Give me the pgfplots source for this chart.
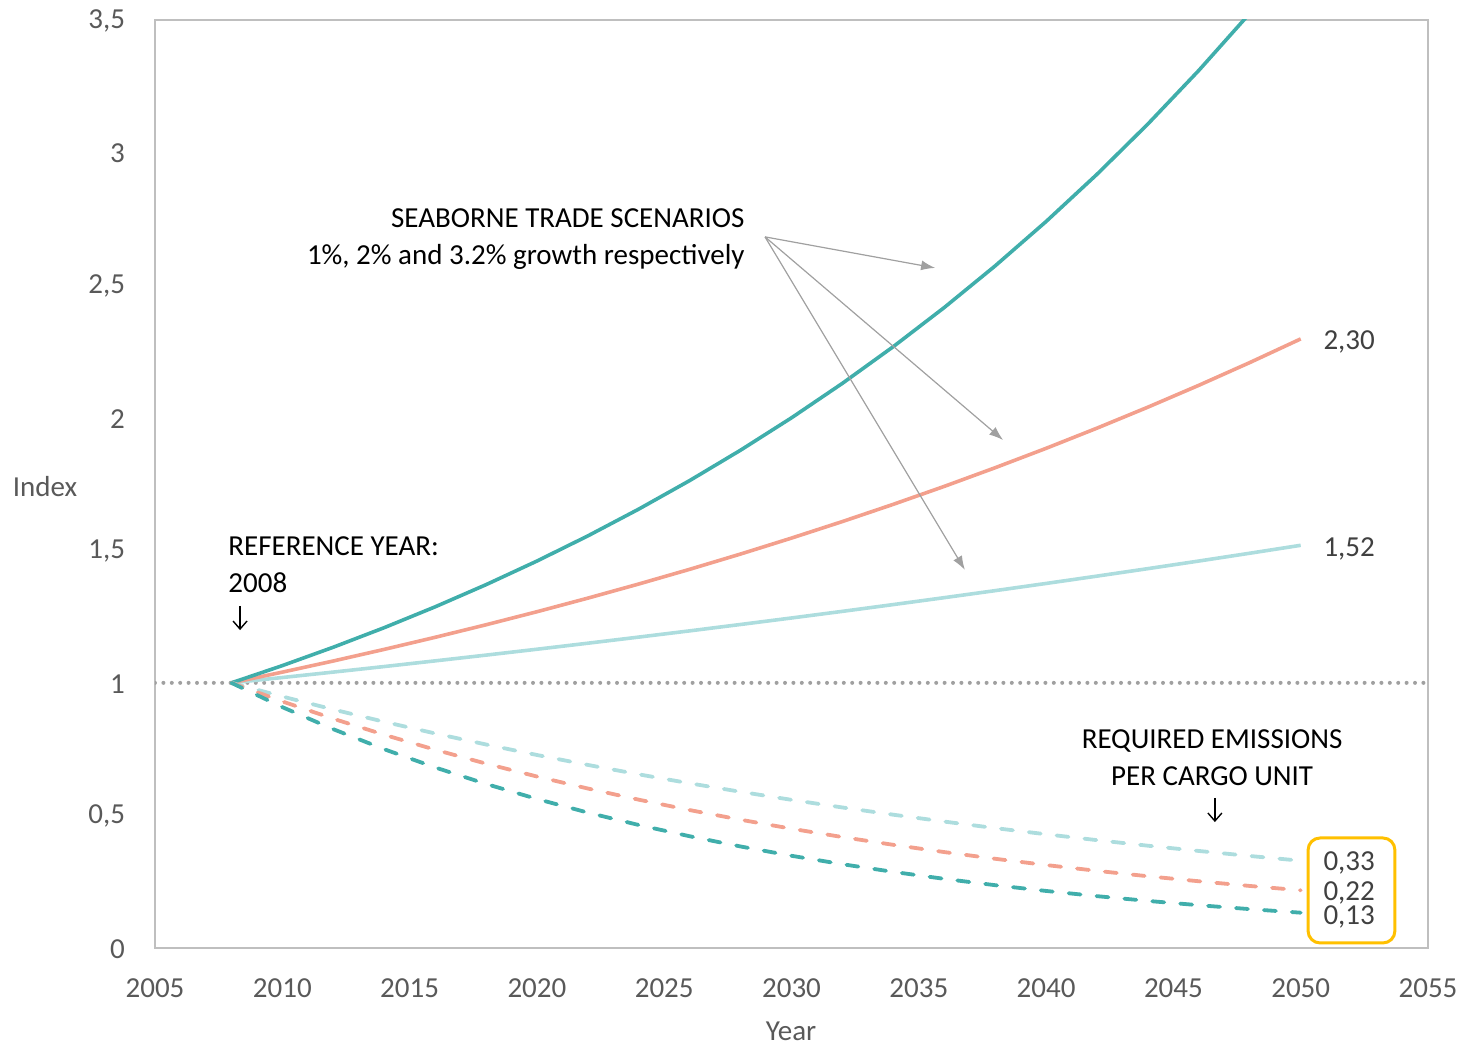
\documentclass[border=0pt]{standalone}
\usepackage{fontspec}
\setmainfont{Carlito}
\usepackage{pgfplots}
\pgfplotsset{compat=1.18}
\usetikzlibrary{arrows.meta}
\definecolor{teal1}{RGB}{64,174,171}
\definecolor{salmon1}{RGB}{243,160,141}
\definecolor{light1}{RGB}{173,221,222}
\definecolor{tickgray}{RGB}{89,89,89}
\definecolor{framegray}{RGB}{191,191,191}
\definecolor{gold1}{RGB}{255,192,0}
\definecolor{arrgray}{RGB}{160,160,160}
\begin{document}
\begin{tikzpicture}
\fontsize{14.5}{18.5}\selectfont
\begin{axis}[
  at={(0,0)}, anchor=south west,
  scale only axis, width=636.5pt, height=464pt,
  xmin=2005, xmax=2055, ymin=0, ymax=3.5,
  xtick={2005,2010,...,2055},
  ytick={0,0.5,...,3.5},
  major tick length=0pt,
  axis line style={framegray, line width=1pt},
  tick label style={tickgray, font=\fontsize{14.5}{17}\selectfont},
  /pgf/number format/assume math mode=true,
  /pgf/number format/use comma,
  /pgf/number format/1000 sep={},
  yticklabel style={xshift=-10pt, yshift=-0.5pt},
  xticklabel style={yshift=-10.5pt},
  clip mode=individual,
]
% reference line
\addplot[arrgray, line width=2pt, line cap=round, dash pattern=on 0pt off 4.2pt] coordinates {(2005,1) (2055,1)};
% growth scenarios
\addplot[light1, line width=1.8pt] coordinates {
(2008,1) (2010,1.0201) (2012,1.0406) (2014,1.0615) (2016,1.0829) (2018,1.1046) (2020,1.1268) (2022,1.1495) (2024,1.1726) (2026,1.1961) (2028,1.2202) (2030,1.2447) (2032,1.2697) (2034,1.2953) (2036,1.3213) (2038,1.3478) (2040,1.3749) (2042,1.4026) (2044,1.4308) (2046,1.4595) (2048,1.4889) (2050,1.5188)};
\addplot[salmon1, line width=1.8pt] coordinates {
(2008,1) (2010,1.0404) (2012,1.0824) (2014,1.1262) (2016,1.1717) (2018,1.2190) (2020,1.2682) (2022,1.3195) (2024,1.3728) (2026,1.4282) (2028,1.4859) (2030,1.5460) (2032,1.6084) (2034,1.6734) (2036,1.7410) (2038,1.8114) (2040,1.8845) (2042,1.9607) (2044,2.0399) (2046,2.1223) (2048,2.2080) (2050,2.2972)};
\addplot[teal1, line width=1.8pt] coordinates {
(2008,1) (2010,1.0650) (2012,1.1343) (2014,1.2080) (2016,1.2866) (2018,1.3702) (2020,1.4593) (2022,1.5542) (2024,1.6553) (2026,1.7629) (2028,1.8776) (2030,1.9996) (2032,2.1297) (2034,2.2682) (2036,2.4156) (2038,2.5727) (2040,2.7400) (2042,2.9182) (2044,3.1079) (2046,3.3100) (2048,3.5252) (2050,3.7545)};
% required emissions per cargo unit
\addplot[light1, line width=1.9pt, line cap=round, dash pattern=on 6pt off 8pt] coordinates {
(2008,1) (2010,0.9485) (2012,0.8996) (2014,0.8532) (2016,0.8093) (2018,0.7676) (2020,0.7280) (2022,0.6905) (2024,0.6549) (2026,0.6212) (2028,0.5892) (2030,0.5588) (2032,0.5300) (2034,0.5027) (2036,0.4768) (2038,0.4522) (2040,0.4289) (2042,0.4068) (2044,0.3858) (2046,0.3660) (2048,0.3471) (2050,0.3292)};
\addplot[salmon1, line width=1.9pt, line cap=round, dash pattern=on 6pt off 8pt] coordinates {
(2008,1) (2010,0.9300) (2012,0.8648) (2014,0.8043) (2016,0.7479) (2018,0.6955) (2020,0.6468) (2022,0.6015) (2024,0.5594) (2026,0.5202) (2028,0.4838) (2030,0.4499) (2032,0.4184) (2034,0.3891) (2036,0.3618) (2038,0.3365) (2040,0.3129) (2042,0.2910) (2044,0.2706) (2046,0.2517) (2048,0.2340) (2050,0.2177)};
\addplot[teal1, line width=1.9pt, line cap=round, dash pattern=on 6pt off 8pt] coordinates {
(2008,1) (2010,0.9085) (2012,0.8253) (2014,0.7498) (2016,0.6811) (2018,0.6188) (2020,0.5621) (2022,0.5107) (2024,0.4639) (2026,0.4215) (2028,0.3829) (2030,0.3478) (2032,0.3160) (2034,0.2871) (2036,0.2608) (2038,0.2369) (2040,0.2152) (2042,0.1955) (2044,0.1776) (2046,0.1614) (2048,0.1466) (2050,0.1332)};
% value labels
\node[anchor=west, inner sep=0pt, text=black!75] at (axis cs:2050.88,2.284) {2,30};
\node[anchor=west, inner sep=0pt, text=black!75] at (axis cs:2050.88,1.504) {1,52};
\node[anchor=west, inner sep=0pt, text=black!75] at (axis cs:2050.88,0.319) {0,33};
\node[anchor=west, inner sep=0pt, text=black!75] at (axis cs:2050.88,0.207) {0,22};
\node[anchor=west, inner sep=0pt, text=black!75] at (axis cs:2050.88,0.119) {0,13};
\draw[gold1, line width=1.5pt, rounded corners=6pt] (axis cs:2050.29,0.019) rectangle (axis cs:2053.70,0.415);
% annotations
\node[anchor=east, align=right, inner sep=0pt] at (axis cs:2028.17,2.672) {SEABORNE TRADE SCENARIOS\\1\%, 2\% and 3.2\% growth respectively};
\draw[arrgray, line width=0.6pt, -{Latex[length=7pt,width=5pt]}] (axis cs:2028.96,2.682) -- (axis cs:2035.64,2.565);
\draw[arrgray, line width=0.6pt, -{Latex[length=7pt,width=5pt]}] (axis cs:2028.96,2.682) -- (axis cs:2038.31,1.916);
\draw[arrgray, line width=0.6pt, -{Latex[length=7pt,width=5pt]}] (axis cs:2028.96,2.682) -- (axis cs:2036.81,1.426);
\node[anchor=west, align=left, inner sep=0pt] at (axis cs:2007.87,1.446) {REFERENCE YEAR:\\2008};
\draw[black, line width=0.7pt, -{Straight Barb[length=4pt,width=7pt]}] (axis cs:2008.34,1.290) -- (axis cs:2008.34,1.199);
\node[align=center, inner sep=0pt] at (axis cs:2046.52,0.7185) {REQUIRED EMISSIONS\\PER CARGO UNIT};
\draw[black, line width=0.7pt, -{Straight Barb[length=4pt,width=7pt]}] (axis cs:2046.63,0.566) -- (axis cs:2046.63,0.475);
\node[text=tickgray] at (rel axis cs:-0.0864,0.4978) {Index};
\node[text=tickgray] at (rel axis cs:0.4996,-0.0894) {Year};
\end{axis}
\pgfresetboundingbox
\path[use as bounding box] (-77.5pt,-48.5pt) rectangle (653.5pt,474pt);
\end{tikzpicture}
\end{document}
